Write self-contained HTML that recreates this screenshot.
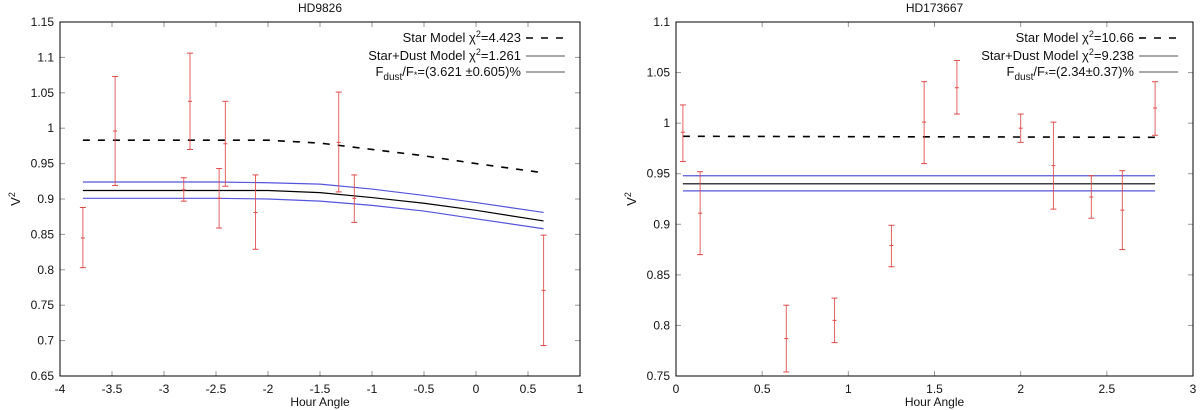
<!DOCTYPE html>
<html><head><meta charset="utf-8"><style>
html,body{margin:0;padding:0;background:#fff;}
svg{display:block;font-family:"Liberation Sans",sans-serif;}
</style></head><body>
<svg id="chart" width="1200" height="410" xmlns="http://www.w3.org/2000/svg"></svg>
<script>
// ---- Left panel data (HD9826)
const leftX = [-3.78,-3.47,-2.81,-2.75,-2.47,-2.41,-2.12,-1.32,-1.17,0.65];
const leftY = [0.845,0.996,0.913,1.038,0.901,0.978,0.881,0.980,0.901,0.771];
const leftLo = [0.803,0.919,0.897,0.970,0.859,0.918,0.829,0.910,0.867,0.693];
const leftHi = [0.888,1.073,0.930,1.106,0.943,1.038,0.934,1.051,0.934,0.849];
const leftModelX = [-3.78,-3.0,-2.5,-2.0,-1.5,-1.0,-0.5,0.0,0.65];
const leftStar = [0.983,0.983,0.983,0.983,0.979,0.970,0.961,0.950,0.937];
const leftDust = [0.912,0.912,0.912,0.912,0.909,0.902,0.894,0.884,0.869];
const leftDustHi = [0.924,0.924,0.924,0.923,0.921,0.914,0.905,0.895,0.881];
const leftDustLo = [0.901,0.901,0.901,0.900,0.897,0.891,0.883,0.872,0.858];
const leftXTicks = [-4,-3.5,-3,-2.5,-2,-1.5,-1,-0.5,0,0.5,1];
const leftYTicks = [0.65,0.7,0.75,0.8,0.85,0.9,0.95,1,1.05,1.1,1.15];
// ---- Right panel data (HD173667)
const rightX = [0.04,0.14,0.64,0.92,1.25,1.44,1.63,2.00,2.19,2.41,2.59,2.78];
const rightY = [0.991,0.911,0.787,0.805,0.879,1.001,1.035,0.995,0.958,0.927,0.914,1.015];
const rightLo = [0.962,0.870,0.754,0.783,0.858,0.960,1.009,0.981,0.915,0.906,0.875,0.988];
const rightHi = [1.018,0.952,0.820,0.827,0.899,1.041,1.062,1.009,1.001,0.948,0.953,1.041];
const rightModelX = [0.04,2.78];
const rightStar = [0.987,0.986];
const rightDust = [0.940,0.940];
const rightDustHi = [0.948,0.948];
const rightDustLo = [0.933,0.933];
const rightXTicks = [0,0.5,1,1.5,2,2.5,3];
const rightYTicks = [0.75,0.8,0.85,0.9,0.95,1,1.05,1.1];

const NS="http://www.w3.org/2000/svg";
const svg=document.getElementById('chart');
function mk(tag,attrs,parent){const e=document.createElementNS(NS,tag);for(const k in attrs)e.setAttribute(k,attrs[k]);(parent||svg).appendChild(e);return e;}

function panel(p){
  const g=mk('g',{});
  
  
  const sx=v=>p.x0+(v-p.xmin)/(p.xmax-p.xmin)*(p.x1-p.x0);
  const sy=v=>p.y1-(v-p.ymin)/(p.ymax-p.ymin)*(p.y1-p.y0);
  p.xt.forEach(t=>{
    const x=sx(t);
    const l=mk('line',{x1:x,x2:x,y1:p.y1,y2:p.y1-5,stroke:'#999'},g);
    
    
    mk('line',{x1:x,x2:x,y1:p.y0,y2:p.y0+5,stroke:'#999'},g);
    const tx=mk('text',{x:x,y:p.y1+17,'text-anchor':'middle','font-size':12,fill:'#111'},g);
    tx.textContent=String(t);
    
    
  });
  p.yt.forEach(t=>{
    const y=sy(t);
    mk('line',{x1:p.x0,x2:p.x0+5,y1:y,y2:y,stroke:'#999'},g);
    mk('line',{x1:p.x1,x2:p.x1-5,y1:y,y2:y,stroke:'#999'},g);
    const tx=mk('text',{x:p.x0-6,y:y+4,'text-anchor':'end','font-size':12,fill:'#111'},g);
    tx.textContent=String(t);
    
    
  });
  const fr=mk('rect',{x:p.x0,y:p.y0,width:p.x1-p.x0,height:p.y1-p.y0,fill:'none',stroke:'#000','stroke-width':1},g);
  
  
  function line(ys,color,dash,name){
    const pts=p.mx.map((x,i)=>sx(x)+','+sy(ys[i])).join(' ');
    const pl=mk('polyline',{points:pts,fill:'none',stroke:color,'stroke-width':dash?1.6:1.2},g);
    if(dash)pl.setAttribute('stroke-dasharray','7,8');
    
    
  }
  line(p.dhi,'#5555dd',false,'dust-model-upper');
  line(p.dlo,'#5555dd',false,'dust-model-lower');
  line(p.dust,'#000',false,'star-dust-model-line');
  line(p.star,'#000',true,'star-model-line');
  p.x.forEach((xv,i)=>{
    const x=sx(xv),yl=sy(p.lo[i]),yh=sy(p.hi[i]),y=sy(p.y[i]);
    const eg=mk('g',{stroke:'#e04848','stroke-width':1},g);
    
    
    mk('line',{x1:x,x2:x,y1:yl,y2:yh,'stroke-opacity':0.85},eg);
    mk('line',{x1:x-3,x2:x+3,y1:yl,y2:yl},eg);
    mk('line',{x1:x-3,x2:x+3,y1:yh,y2:yh},eg);
    mk('line',{x1:x-2,x2:x+2,y1:y,y2:y},eg);
  });
  const tt=mk('text',{x:(p.x0+p.x1)/2,y:12,'text-anchor':'middle','font-size':12,fill:'#111'},g);
  tt.textContent=p.title;
  
  
  const xl=mk('text',{x:(p.x0+p.x1)/2,y:406,'text-anchor':'middle','font-size':12,fill:'#111'},g);
  xl.textContent='Hour Angle';
  
  
  const yc=(p.y0+p.y1)/2;
  const yl=mk('text',{x:p.x0-40,y:yc,'text-anchor':'middle','font-size':13,fill:'#111',transform:`rotate(-90 ${p.x0-40} ${yc})`},g);
  yl.innerHTML='V<tspan dy="-5" font-size="9">2</tspan>';
  
  
  const tx=p.x1-59, s0=p.x1-54, s1=p.x1-15;
  const rows=[[38,p.leg[0],true],[56,p.leg[1],false],[72,p.leg[2],false]];
  rows.forEach((r,i)=>{
    const t=mk('text',{x:tx,y:r[0]+4,'text-anchor':'end','font-size':13,fill:'#111'},g);
    t.innerHTML=r[1];
    
    
    const l=mk('line',{x1:s0,x2:s1,y1:r[0],y2:r[0],stroke:r[2]?'#000':'#555','stroke-width':r[2]?1.6:1},g);
    if(r[2])l.setAttribute('stroke-dasharray','7,8');
    
    
  });
}
panel({name:'hd9826-panel',title:'HD9826',x0:60,x1:580,y0:22,y1:376,xmin:-4,xmax:1,ymin:0.65,ymax:1.15,
  xt:leftXTicks,yt:leftYTicks,x:leftX,y:leftY,lo:leftLo,hi:leftHi,mx:leftModelX,star:leftStar,dust:leftDust,dhi:leftDustHi,dlo:leftDustLo,
  leg:['Star Model χ<tspan dy="-5" font-size="9">2</tspan><tspan dy="5">=4.423</tspan>','Star+Dust Model χ<tspan dy="-5" font-size="9">2</tspan><tspan dy="5">=1.261</tspan>','F<tspan dy="4" font-size="10">dust</tspan><tspan dy="-4">/F</tspan><tspan dy="2" font-size="9">*</tspan><tspan dy="-2">=(3.621 ±0.605)%</tspan>']});
panel({name:'hd173667-panel',title:'HD173667',x0:676,x1:1193,y0:22,y1:376,xmin:0,xmax:3,ymin:0.75,ymax:1.1,
  xt:rightXTicks,yt:rightYTicks,x:rightX,y:rightY,lo:rightLo,hi:rightHi,mx:rightModelX,star:rightStar,dust:rightDust,dhi:rightDustHi,dlo:rightDustLo,
  leg:['Star Model χ<tspan dy="-5" font-size="9">2</tspan><tspan dy="5">=10.66</tspan>','Star+Dust Model χ<tspan dy="-5" font-size="9">2</tspan><tspan dy="5">=9.238</tspan>','F<tspan dy="4" font-size="10">dust</tspan><tspan dy="-4">/F</tspan><tspan dy="2" font-size="9">*</tspan><tspan dy="-2">=(2.34±0.37)%</tspan>']});
</script>
</body></html>
